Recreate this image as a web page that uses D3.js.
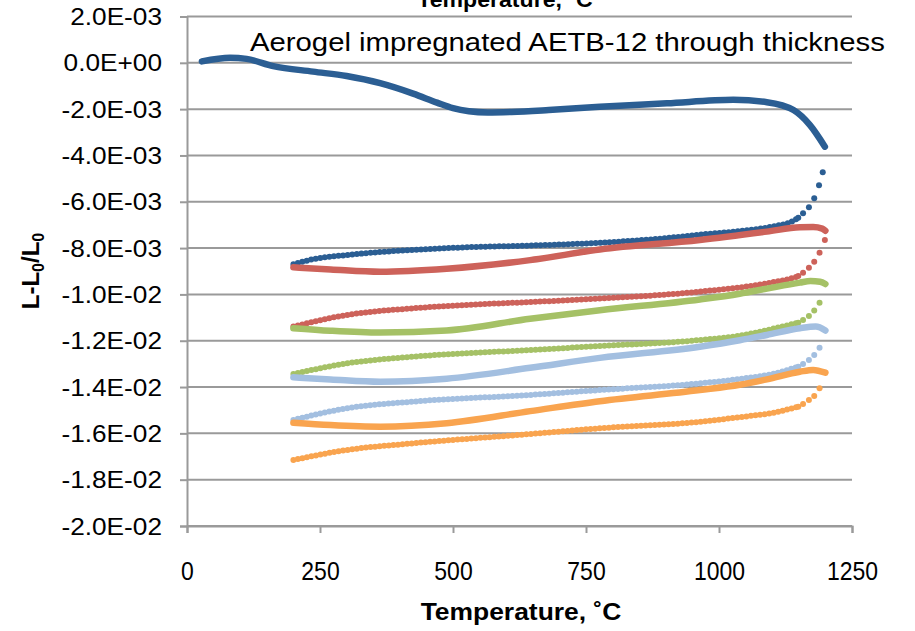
<!DOCTYPE html>
<html>
<head>
<meta charset="utf-8">
<script src="https://cdn.jsdelivr.net/npm/d3@7"></script>
<style>
  html, body { margin: 0; padding: 0; background: #fff; }
  svg { display: block; font-family: "Liberation Sans", Arial, sans-serif; }
</style>
</head>
<body>
<svg id="chart" width="915" height="631"></svg>
<script>
// Axis ticks
const xTicks = [0, 250, 500, 750, 1000, 1250];
const yTicks = [0.002, 0, -0.002, -0.004, -0.006, -0.008, -0.010, -0.012, -0.014, -0.016, -0.018, -0.020];

// Thermal strain, [temperature °C, L-L0/L0]; heating runs and cooling runs per cycle
const blueHeat = [[28,0.00006],[81,0.00022],[112,0.00017],[162,-0.00014],[237,-0.00038],[300,-0.00057],[363,-0.00088],[425,-0.00133],[470,-0.00172],[500,-0.00196],[530,-0.00209],[565,-0.00214],[610,-0.00212],[680,-0.00204],[776,-0.0019],[902,-0.00175],[1027,-0.0016],[1090,-0.0017],[1140,-0.00204],[1171,-0.00269],[1199,-0.00362]];
const blueCool = [[200,-0.0087],[237,-0.00848],[300,-0.0083],[363,-0.00817],[425,-0.00808],[520,-0.00797],[645,-0.00789],[776,-0.00777],[900,-0.00757],[964,-0.00742],[1040,-0.00726],[1100,-0.00707],[1140,-0.00682],[1149,-0.00669],[1158,-0.0065],[1169,-0.00624],[1179,-0.00585],[1188,-0.00529],[1195,-0.00473]];

const redHeat = [[200,-0.00883],[270,-0.00892],[363,-0.00902],[488,-0.00889],[645,-0.00852],[776,-0.00806],[964,-0.00765],[1090,-0.00729],[1152,-0.0071],[1177,-0.00709],[1194,-0.00716],[1200,-0.00725]];
const redCool = [[200,-0.01139],[300,-0.01089],[425,-0.0106],[520,-0.01046],[645,-0.01033],[776,-0.01018],[964,-0.00988],[1090,-0.00952],[1140,-0.00928],[1149,-0.00921],[1158,-0.00906],[1169,-0.00885],[1179,-0.00859],[1189,-0.0082],[1199,-0.00765]];

const greenHeat = [[200,-0.01146],[270,-0.01157],[363,-0.01165],[488,-0.01156],[645,-0.01105],[776,-0.01068],[964,-0.01022],[1039,-0.00997],[1090,-0.00975],[1152,-0.00949],[1172,-0.00942],[1190,-0.00945],[1200,-0.00955]];
const greenCool = [[200,-0.01344],[300,-0.01298],[425,-0.01269],[645,-0.0124],[776,-0.01223],[964,-0.01197],[1039,-0.01178],[1102,-0.01148],[1149,-0.01122],[1158,-0.0111],[1169,-0.01093],[1179,-0.0107],[1189,-0.01036]];

const lightBlueHeat = [[200,-0.01358],[270,-0.01367],[363,-0.01377],[488,-0.01364],[645,-0.01317],[776,-0.01274],[964,-0.01226],[1039,-0.01198],[1090,-0.01175],[1152,-0.01146],[1182,-0.01139],[1200,-0.01156]];
const lightBlueCool = [[200,-0.01542],[300,-0.01492],[425,-0.01463],[645,-0.01434],[776,-0.01413],[964,-0.01384],[1039,-0.01365],[1102,-0.01343],[1149,-0.01312],[1158,-0.01301],[1169,-0.01283],[1179,-0.01262],[1189,-0.0123]];

const orangeHeat = [[200,-0.01554],[270,-0.01564],[363,-0.01571],[488,-0.01556],[645,-0.01504],[776,-0.01461],[964,-0.01413],[1039,-0.0139],[1090,-0.01367],[1152,-0.01334],[1177,-0.01326],[1200,-0.01338]];
const orangeCool = [[200,-0.01715],[300,-0.01672],[425,-0.01643],[645,-0.01603],[776,-0.01578],[964,-0.0155],[1039,-0.0153],[1102,-0.01511],[1149,-0.01485],[1158,-0.01473],[1169,-0.01456],[1179,-0.01439],[1189,-0.01405]];

const series = [
  { color: "#2b5e93", heat: blueHeat, cool: blueCool },
  { color: "#cd625a", heat: redHeat, cool: redCool },
  { color: "#a5c166", heat: greenHeat, cool: greenCool },
  { color: "#a3bfe0", heat: lightBlueHeat, cool: lightBlueCool },
  { color: "#f9a44f", heat: orangeHeat, cool: orangeCool }
];

const svg = d3.select("#chart");
const plotLeft = 187, plotRight = 852, plotTop = 16.5, plotBottom = 526;
const x = d3.scaleLinear().domain([0, 1250]).range([plotLeft, plotRight]);
const y = d3.scaleLinear().domain([-0.02, 0.002]).range([plotBottom, plotTop]);

const sciFormat = v => {
  const [m, e] = v.toExponential(1).split("e");
  return m + "E" + e[0] + e.slice(1).padStart(2, "0");
};

const axisColor = "#9a9a9a";

// Horizontal gridlines
svg.append("g").selectAll("line").data(yTicks).join("line")
  .attr("x1", plotLeft).attr("x2", plotRight)
  .attr("y1", d => y(d)).attr("y2", d => y(d))
  .attr("stroke", axisColor).attr("stroke-width", 2);

// Y axis
const yAxis = svg.append("g").attr("transform", `translate(${plotLeft},0)`)
  .call(d3.axisLeft(y).tickValues(yTicks).tickFormat(sciFormat).tickSize(7).tickPadding(0));
yAxis.select(".domain").attr("stroke", axisColor).attr("stroke-width", 2);
yAxis.selectAll(".tick line").attr("stroke", axisColor).attr("stroke-width", 2);
yAxis.selectAll(".tick text")
  .attr("x", 0).attr("dy", null).attr("y", 0)
  .attr("transform", "translate(-25,8) scale(1.14,1)")
  .attr("font-size", 23).attr("fill", "#000").attr("text-anchor", "end");

// X axis
const xAxis = svg.append("g").attr("transform", `translate(0,${plotBottom})`)
  .call(d3.axisBottom(x).tickValues(xTicks).tickFormat(d3.format("d")).tickSize(7).tickPadding(0));
xAxis.select(".domain").attr("stroke", axisColor).attr("stroke-width", 2);
xAxis.selectAll(".tick line").attr("stroke", axisColor).attr("stroke-width", 2);
xAxis.selectAll(".tick text")
  .attr("y", 0).attr("dy", null)
  .attr("transform", "translate(0,54) scale(1,1.12)")
  .attr("font-size", 23).attr("fill", "#000");

// Curves: heating runs as solid bands, cooling runs as dotted bands with the last readings as points
const line = d3.line().x(d => x(d[0])).y(d => y(d[1])).curve(d3.curveMonotoneX);
const plot = svg.append("g");
series.forEach(s => {
  plot.append("path").datum(s.heat)
    .attr("d", line).attr("fill", "none")
    .attr("stroke", s.color).attr("stroke-width", 6.5)
    .attr("stroke-linecap", "round").attr("stroke-linejoin", "round");
  plot.append("path").datum(s.cool.filter(d => d[0] <= 1150))
    .attr("d", line).attr("fill", "none")
    .attr("stroke", s.color).attr("stroke-width", 6)
    .attr("stroke-linecap", "round").attr("stroke-dasharray", "0 4.6");
  plot.append("g").selectAll("circle").data(s.cool.filter(d => d[0] >= 1145)).join("circle")
    .attr("cx", d => x(d[0])).attr("cy", d => y(d[1])).attr("r", 3)
    .attr("fill", s.color);
});

// Titles and annotation
svg.append("text")
  .attr("transform", "translate(505,7) scale(1.05,1)")
  .attr("text-anchor", "middle").attr("font-weight", "bold").attr("font-size", 22)
  .text("Temperature, ˚C");

svg.append("text")
  .attr("transform", "translate(250,51) scale(1.172,1)")
  .attr("font-size", 25).attr("fill", "#000")
  .text("Aerogel impregnated AETB-12 through thickness");

svg.append("text")
  .attr("transform", "translate(521,620) scale(1.15,1.05)")
  .attr("text-anchor", "middle").attr("font-weight", "bold").attr("font-size", 23)
  .text("Temperature, ˚C");

const yTitle = svg.append("text")
  .attr("transform", "translate(39,271) rotate(-90)")
  .attr("text-anchor", "middle").attr("font-weight", "bold").attr("font-size", 24);
yTitle.append("tspan").text("L-L");
yTitle.append("tspan").attr("font-size", 16).attr("dy", 5).text("0");
yTitle.append("tspan").attr("dy", -5).text("/L");
yTitle.append("tspan").attr("font-size", 16).attr("dy", 5).text("0");
</script>
</body>
</html>
